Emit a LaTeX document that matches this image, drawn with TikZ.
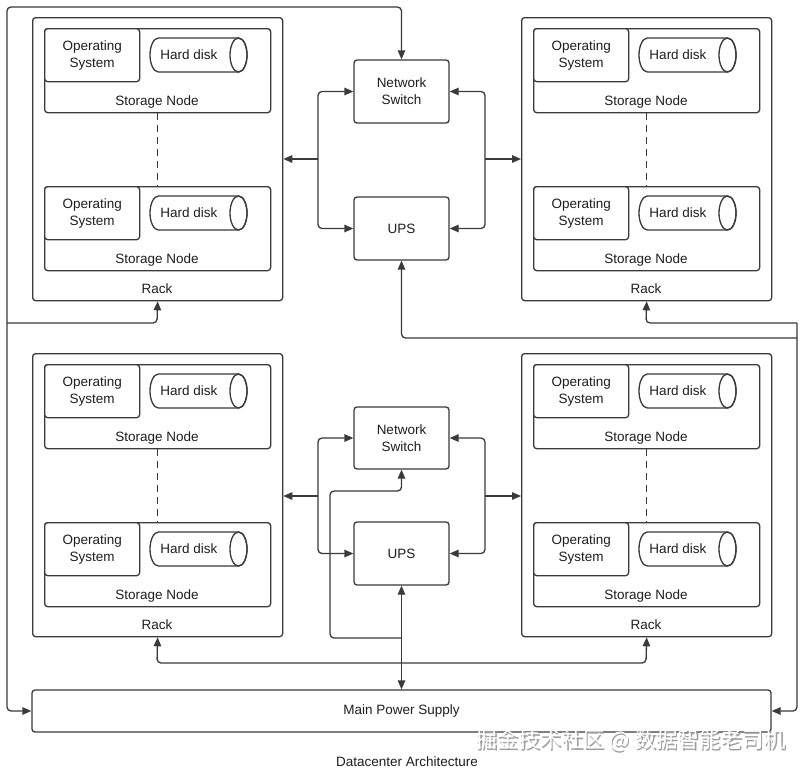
\documentclass[tikz,border=0pt]{standalone}
\usepackage{fontspec}
\setmainfont{Liberation Sans}
\newfontfamily\cjk{Noto Sans CJK SC}
\usetikzlibrary{arrows.meta}
\definecolor{linec}{HTML}{3A3A3A}
\definecolor{txtc}{HTML}{1E1E1E}
\tikzset{
  ln/.style={draw=linec, line width=1.3pt},
  box/.style={ln, rounded corners=3pt, inner sep=0pt, fill=white},
  txt/.style={text=txtc, font=\fontsize{13.5}{17}\selectfont, inner sep=0pt, align=center},
  conn/.style={draw=linec, line width=1.3pt, rounded corners=4pt, -{Triangle[length=9pt,width=7.5pt]}},
  conn2/.style={draw=linec, line width=1.3pt, rounded corners=4pt, {Triangle[length=9pt,width=7.5pt]}-{Triangle[length=9pt,width=7.5pt]}},
}
\newcommand\snode[3]{%
  \node[box, anchor=north west, minimum width=226pt, minimum height=84pt] (#1) at (#2,#3) {};
  \node[box, anchor=north west, minimum width=95pt, minimum height=53pt, txt, draw=linec] (#1os) at (#2,#3) {Operating\\System};
  \node[txt] (#1lbl) at ([shift={(113,74)}]#1.north west) {Storage Node};
  \draw[ln] ([shift={(114.5,10)}]#1.north west) -- ([shift={(194.5,10)}]#1.north west)
     arc[start angle=90,end angle=-90,x radius=8.5pt,y radius=17pt]
     -- ([shift={(114.5,44)}]#1.north west)
     arc[start angle=270,end angle=90,x radius=8.5pt,y radius=17pt] -- cycle;
  \draw[ln] ([shift={(194.5,27)}]#1.north west) ellipse[x radius=8.5pt, y radius=17pt];
  \node[txt] (#1hd) at ([shift={(145,27)}]#1.north west) {Hard disk};
}
\newcommand\rackbox[3]{%
  \node[box, anchor=north west, minimum width=250pt, minimum height=283pt] (#1) at (#2,#3) {};
  \node[txt] (#1lbl) at ([shift={(125,272)}]#1.north west) {Rack};
}
\begin{document}
\begin{tikzpicture}[x=1pt,y=-1pt]
\useasboundingbox (0,0) rectangle (808,772);
\fill[white] (0,0) rectangle (808,772);

% racks
\rackbox{rTL}{32}{17}
\rackbox{rTR}{521}{17}
\rackbox{rBL}{32}{353}
\rackbox{rBR}{521}{353}

\snode{sTLa}{44}{28}
\snode{sTLb}{44}{186}
\snode{sTRa}{533}{28}
\snode{sTRb}{533}{186}
\snode{sBLa}{44}{364}
\snode{sBLb}{44}{522}
\snode{sBRa}{533}{364}
\snode{sBRb}{533}{522}

\foreach \a/\b in {sTLa/sTLb,sTRa/sTRb,sBLa/sBLb,sBRa/sBRb}
  \draw[ln, line width=1.5pt, dash pattern=on 7pt off 5pt] (\a.south) -- (\b.north);

% central boxes
\node[box, txt, draw=linec, minimum width=95pt, minimum height=63pt] (nsT) at (401.5,91.5) {Network\\Switch};
\node[box, txt, draw=linec, minimum width=95pt, minimum height=63pt] (upsT) at (401.5,228.5) {UPS};
\node[box, txt, draw=linec, minimum width=95pt, minimum height=62pt] (nsB) at (401.5,438) {Network\\Switch};
\node[box, txt, draw=linec, minimum width=95pt, minimum height=63pt] (upsB) at (401.5,553.5) {UPS};

\node[box, txt, draw=linec, minimum width=739pt, minimum height=42pt] (mps) at (401.5,711) {Main Power Supply};

\node[txt] (title) at (407,762) {Datacenter Architecture};

% top brackets
\coordinate (jTL) at (318,159);
\coordinate (jTR) at (485,159);
\draw[conn] (jTL) -- (rTL.east |- jTL);
\draw[conn] (jTL) |- (nsT.west);
\draw[conn] (jTL) |- (upsT.west);
\draw[conn] (jTR) -- (rTR.west |- jTR);
\draw[conn] (jTR) |- (nsT.east);
\draw[conn] (jTR) |- (upsT.east);

% bottom brackets
\coordinate (jBL) at (318,496);
\coordinate (jBR) at (485,496);
\draw[conn] (jBL) -- (rBL.east |- jBL);
\draw[conn] (jBL) |- (nsB.west);
\draw[conn] (jBL) |- (upsB.west);
\draw[conn] (jBR) -- (rBR.west |- jBR);
\draw[conn] (jBR) |- (nsB.east);
\draw[conn] (jBR) |- (upsB.east);

% outer power lines
\coordinate (jL) at (7,323);
\coordinate (jR) at (797,323);
\coordinate (jR2) at (797,338);
\draw[conn] (jL) -- (7,7) -- (401.5,7) -- (nsT.north);
\draw[conn] (jL) -- (157,323) -- (rTL.south);
\draw[conn] (jL) -- (7,711) -- (mps.west);
\draw[conn] (jR) -- (646,323) -- (rTR.south);
\draw[conn] (jR) -- (797,711) -- (mps.east);
\draw[conn] (jR2) -- (401.5,338) -- (upsT.south);

% bottom power lines
\coordinate (jB) at (401.5,663);
\coordinate (jB2) at (401.5,638);
\draw[conn2] (upsB.south) -- (mps.north);
\draw[conn] (jB) -- (157,663) -- (rBL.south);
\draw[conn] (jB) -- (646,663) -- (rBR.south);
\draw[conn] (jB2) -- (330,638) -- (330,491) -- (401.5,491) -- (nsB.south);

% watermark
\node[text=gray!75, font=\cjk\fontsize{21.5}{21.5}\selectfont, inner sep=0pt] (wm1) at (631.8,741.8) {掘金技术社区 @ 数据智能老司机};
\node[text=white, font=\cjk\fontsize{21.5}{21.5}\selectfont, inner sep=0pt] (wm2) at (630.5,740.5) {掘金技术社区 @ 数据智能老司机};
\end{tikzpicture}
\end{document}
